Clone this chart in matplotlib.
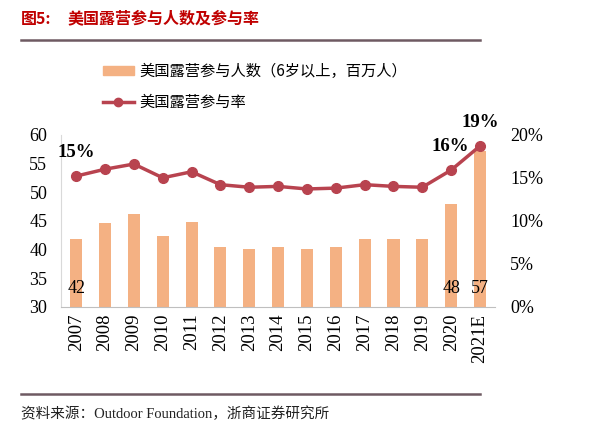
import matplotlib

matplotlib.use("Agg")
import matplotlib.pyplot as plt
from matplotlib.lines import Line2D
from matplotlib.patches import Patch

plt.rcParams["font.family"] = ["Liberation Serif", "Noto Sans CJK SC"]

years = ["2007", "2008", "2009", "2010", "2011", "2012", "2013", "2014",
         "2015", "2016", "2017", "2018", "2019", "2020", "2021E"]
people = [41.8, 44.6, 46.2, 42.3, 44.7, 40.5, 40.1, 40.5,
          40.1, 40.5, 41.8, 41.8, 41.8, 48.0, 57.1]
rate = [15.2, 16.0, 16.6, 15.0, 15.7, 14.2, 13.9, 14.0,
        13.7, 13.8, 14.2, 14.0, 13.9, 15.9, 18.7]
bar_labels = {0: "42", 13: "48", 14: "57"}
rate_labels = {0: "15%", 13: "16%", 14: "19%"}

BAR_C = "#F4B183"
LINE_C = "#B8434F"
RED = "#C00000"
CJK = ["Noto Sans CJK SC", "DejaVu Sans"]

fig = plt.figure(figsize=(6.0, 4.42), dpi=100)
ax = fig.add_axes([0.102, 0.306, 0.723, 0.389])
x = list(range(len(years)))
ax.bar(x, people, width=0.42, bottom=0, color=BAR_C, zorder=2)
ax.set_ylim(30, 60)
ax.set_xlim(-0.52, len(years) - 0.48)
ax.set_yticks(range(30, 61, 5))
ax.set_xticks(x)
ax.set_xticklabels(years, rotation=90, fontsize=13.5)
ax.tick_params(axis="y", length=0, labelsize=13, pad=10)
ax.tick_params(axis="x", length=0, pad=5)
for s in ["top", "right"]:
    ax.spines[s].set_visible(False)
ax.spines["left"].set_color("#D9D9D9")
ax.spines["bottom"].set_color("#BFBFBF")

for i, t in bar_labels.items():
    ax.text(i, 31.7, t, ha="center", va="bottom", fontsize=13)

ax2 = ax.twinx()
ax2.plot(x, rate, "-o", color=LINE_C, lw=2.5, ms=7, zorder=3)
ax2.set_ylim(0, 20)
ax2.set_yticks(range(0, 21, 5))
ax2.set_yticklabels([f"{v}%" for v in range(0, 21, 5)])
ax2.tick_params(length=0, labelsize=13, pad=11)
for s in ["top", "right", "left", "bottom"]:
    ax2.spines[s].set_visible(False)

ax2.text(0, 16.95, rate_labels[0], ha="center", va="bottom",
         fontsize=13.5, fontweight="bold")
ax2.text(12.97, 17.7, rate_labels[13], ha="center", va="bottom",
         fontsize=13.5, fontweight="bold")
ax2.text(14.0, 20.4, rate_labels[14], ha="center", va="bottom",
         fontsize=13.5, fontweight="bold", clip_on=False)

handles = [Patch(color=BAR_C),
           Line2D([], [], color=LINE_C, lw=2.5, marker="o", ms=6)]
fig.legend(handles, ["美国露营参与人数（6岁以上，百万人）", "美国露营参与率"],
           loc="upper left", bbox_to_anchor=(0.172, 0.857), frameon=False,
           borderpad=0, borderaxespad=0,
           handlelength=2.0, handleheight=0.5, handletextpad=0.35,
           labelspacing=0.9, prop={"family": CJK, "size": 11})

# header and footer
fig.text(0.035, 0.958, "图5:", color=RED, fontsize=11.5, fontweight="bold",
         family=CJK, va="center")
fig.text(0.113, 0.958, "美国露营参与人数及参与率", color=RED, fontsize=11.5,
         fontweight="bold", family=CJK, va="center")
fig.add_artist(Line2D([0.035, 0.8], [0.909, 0.909], color="#6E5A62", lw=1.8))
fig.add_artist(Line2D([0.035, 0.8], [0.109, 0.109], color="#6E5A62", lw=1.8))
fig.text(0.035, 0.064, "资料来源：Outdoor Foundation，浙商证券研究所",
         fontsize=10.5, family=["Liberation Serif", "Noto Sans CJK SC"],
         va="center", color="#222222")

fig.savefig("out.png", dpi=100)
